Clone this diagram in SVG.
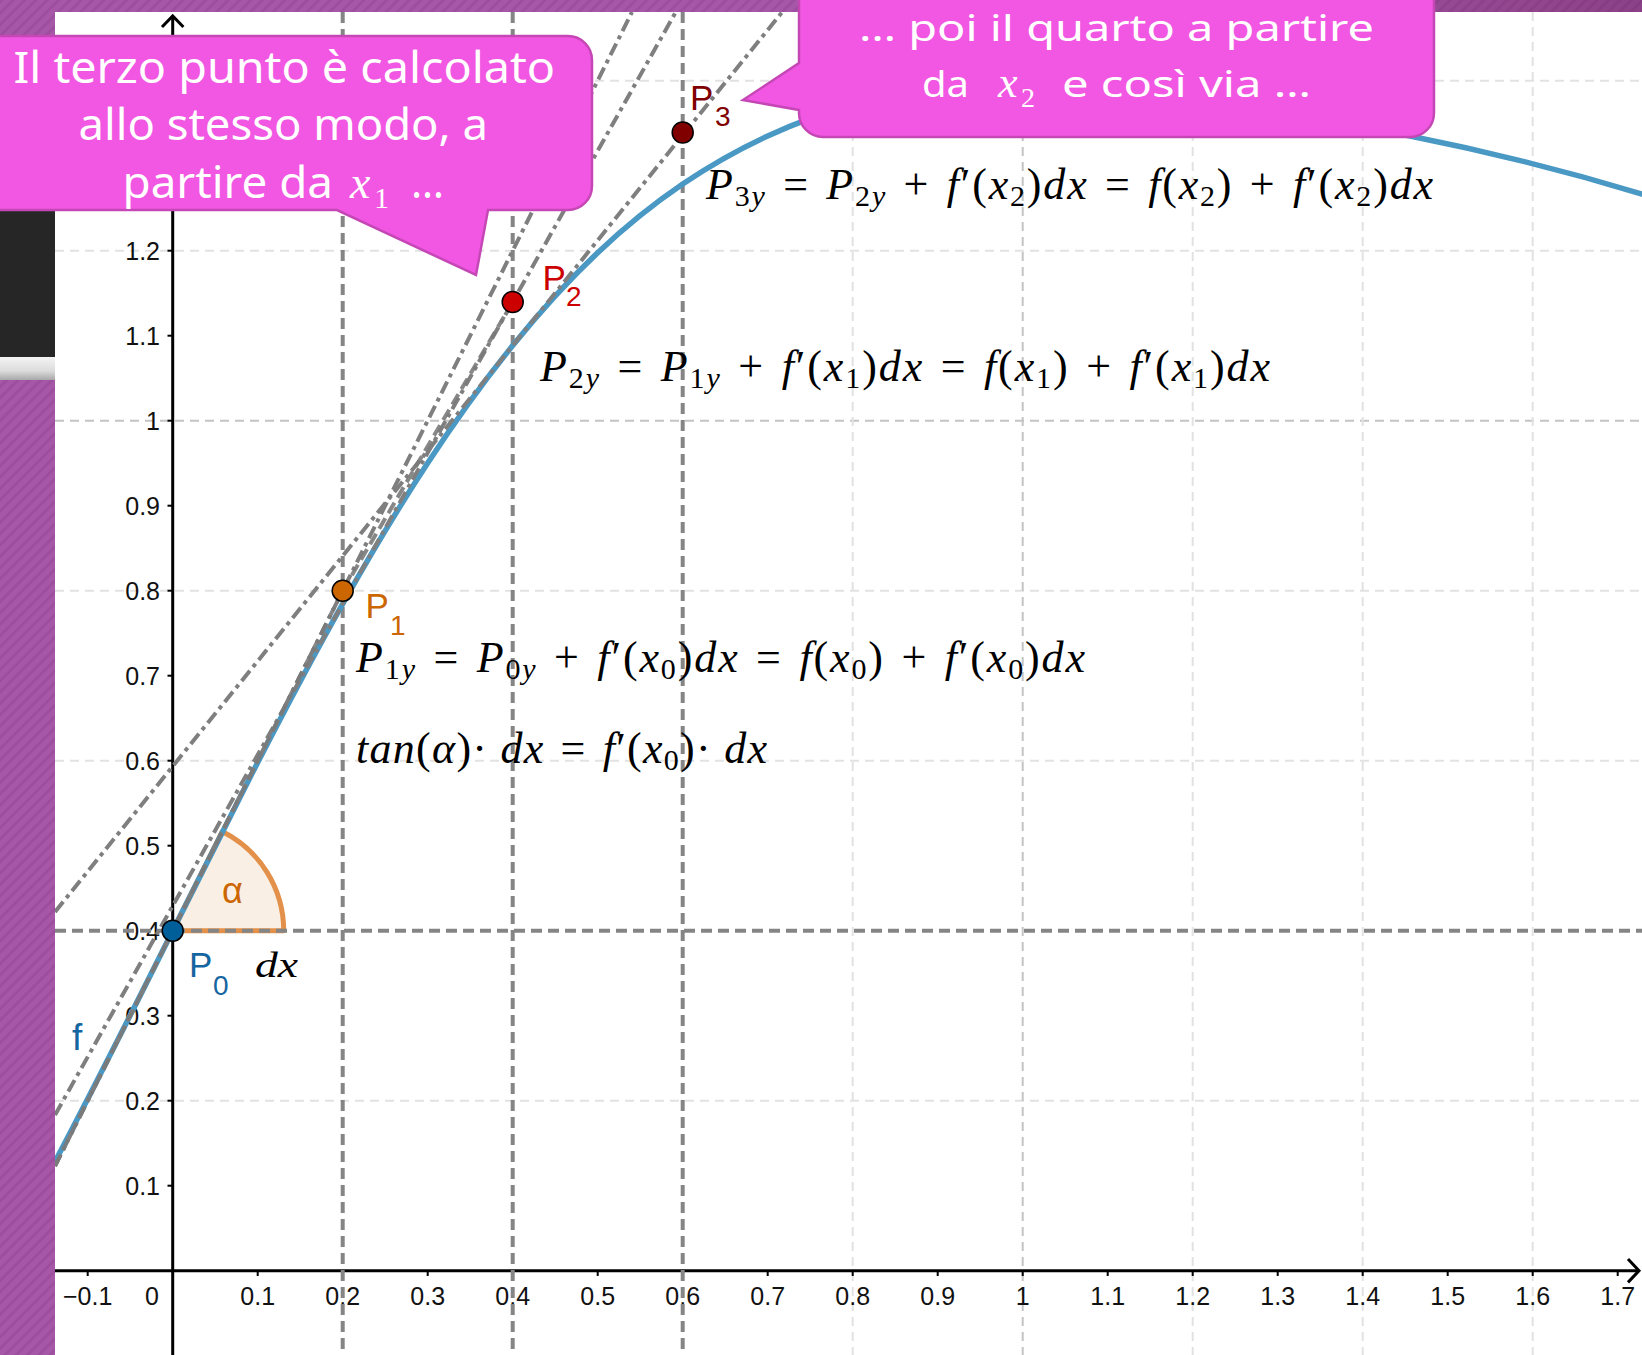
<svg xmlns="http://www.w3.org/2000/svg" width="1642" height="1355" viewBox="0 0 1642 1355">
<defs>
<style>
.grid{stroke:#e2e2e2;stroke-width:2;stroke-dasharray:9 6;fill:none}
.grid1{stroke:#c4c4c4}
.cons{stroke:#858585;stroke-width:4;stroke-dasharray:11 6;fill:none}
.dd{stroke:#7f7f7f;stroke-width:4;stroke-dasharray:13 5 4 5;fill:none}
.dash{stroke:#7a7a7a;stroke-width:4;stroke-dasharray:12 6;fill:none;opacity:0.9}
.axis{stroke:#000;stroke-width:3;fill:none}
.tk{stroke:#000;stroke-width:2}
.lbl{font-family:"Liberation Sans",Arial,sans-serif;font-size:25px;fill:#111}
.xl{text-anchor:middle}
.yl{text-anchor:end}
.m{font-family:"Liberation Serif","Times New Roman",serif;font-size:44px;fill:#000}
.i{font-style:italic}
.s{font-size:30px}
.pl{font-family:"Liberation Sans",Arial,sans-serif;font-size:35px}
.ps{font-family:"Liberation Sans",Arial,sans-serif;font-size:28px}
.pt{stroke:#000;stroke-width:1.5}
.co{fill:#F157E2;stroke:#C547B6;stroke-width:2.5}
.ct{font-family:"Noto Sans","Open Sans",sans-serif;fill:#fff}
.cm{font-family:"Liberation Serif","Times New Roman",serif;font-style:italic;fill:#fff}
.cs{font-family:"Liberation Serif","Times New Roman",serif;font-style:normal;fill:#fff}
</style>
<pattern id="hatch" width="8" height="8" patternUnits="userSpaceOnUse" patternTransform="rotate(45)">
<rect width="8" height="8" fill="#A757A8"/><rect width="3" height="8" fill="#9D4E9F"/>
</pattern>
<linearGradient id="topfade" x1="0" y1="0" x2="1" y2="0">
<stop offset="0" stop-color="#5a1a4a" stop-opacity="0"/><stop offset="1" stop-color="#5a1a4a" stop-opacity="0.35"/>
</linearGradient>
<linearGradient id="bar" x1="0" y1="0" x2="0" y2="1">
<stop offset="0" stop-color="#f4f4f4"/><stop offset="0.6" stop-color="#dcdcdc"/><stop offset="1" stop-color="#a8a8a8"/>
</linearGradient>
<clipPath id="plot"><rect x="55" y="12" width="1587" height="1343"/></clipPath>
</defs>

<rect x="0" y="0" width="1642" height="1355" fill="#fff"/>

<g id="plot-area" clip-path="url(#plot)">
 <g id="grid">
  <line class="grid" x1="55" y1="1100.7" x2="1642" y2="1100.7"/>
  <line class="grid" x1="55" y1="760.7" x2="1642" y2="760.7"/>
  <line class="grid" x1="55" y1="590.7" x2="1642" y2="590.7"/>
  <line class="grid grid1" x1="55" y1="420.7" x2="1642" y2="420.7"/>
  <line class="grid" x1="55" y1="250.7" x2="1642" y2="250.7"/>
  <line class="grid" x1="55" y1="80.7" x2="1642" y2="80.7"/>
  <line class="grid" x1="852.7" y1="12" x2="852.7" y2="1355"/>
  <line class="grid grid1" x1="1022.7" y1="12" x2="1022.7" y2="1355"/>
  <line class="grid" x1="1192.7" y1="12" x2="1192.7" y2="1355"/>
  <line class="grid" x1="1362.7" y1="12" x2="1362.7" y2="1355"/>
  <line class="grid" x1="1532.7" y1="12" x2="1532.7" y2="1355"/>
 </g>

 <g id="axes">
  <line class="axis" x1="55" y1="1270.7" x2="1638" y2="1270.7"/>
  <polyline class="axis" points="1628,1259 1639,1270.7 1628,1282.4"/>
  <line class="axis" x1="172.7" y1="1355" x2="172.7" y2="16"/>
  <polyline class="axis" points="162,27 172.7,16 183.4,27"/>
  <g id="xticks">
   <line class="tk" x1="87.7" y1="1271" x2="87.7" y2="1276"/>
   <line class="tk" x1="257.7" y1="1271" x2="257.7" y2="1276"/>
   <line class="tk" x1="342.7" y1="1271" x2="342.7" y2="1276"/>
   <line class="tk" x1="427.7" y1="1271" x2="427.7" y2="1276"/>
   <line class="tk" x1="512.7" y1="1271" x2="512.7" y2="1276"/>
   <line class="tk" x1="597.7" y1="1271" x2="597.7" y2="1276"/>
   <line class="tk" x1="682.7" y1="1271" x2="682.7" y2="1276"/>
   <line class="tk" x1="767.7" y1="1271" x2="767.7" y2="1276"/>
   <line class="tk" x1="852.7" y1="1271" x2="852.7" y2="1276"/>
   <line class="tk" x1="937.7" y1="1271" x2="937.7" y2="1276"/>
   <line class="tk" x1="1022.7" y1="1271" x2="1022.7" y2="1276"/>
   <line class="tk" x1="1107.7" y1="1271" x2="1107.7" y2="1276"/>
   <line class="tk" x1="1192.7" y1="1271" x2="1192.7" y2="1276"/>
   <line class="tk" x1="1277.7" y1="1271" x2="1277.7" y2="1276"/>
   <line class="tk" x1="1362.7" y1="1271" x2="1362.7" y2="1276"/>
   <line class="tk" x1="1447.7" y1="1271" x2="1447.7" y2="1276"/>
   <line class="tk" x1="1532.7" y1="1271" x2="1532.7" y2="1276"/>
   <line class="tk" x1="1617.7" y1="1271" x2="1617.7" y2="1276"/>
  </g>
  <g id="yticks">
   <line class="tk" x1="167.5" y1="1185.7" x2="172.7" y2="1185.7"/>
   <line class="tk" x1="167.5" y1="1100.7" x2="172.7" y2="1100.7"/>
   <line class="tk" x1="167.5" y1="1015.7" x2="172.7" y2="1015.7"/>
   <line class="tk" x1="167.5" y1="930.7" x2="172.7" y2="930.7"/>
   <line class="tk" x1="167.5" y1="845.7" x2="172.7" y2="845.7"/>
   <line class="tk" x1="167.5" y1="760.7" x2="172.7" y2="760.7"/>
   <line class="tk" x1="167.5" y1="675.7" x2="172.7" y2="675.7"/>
   <line class="tk" x1="167.5" y1="590.7" x2="172.7" y2="590.7"/>
   <line class="tk" x1="167.5" y1="505.7" x2="172.7" y2="505.7"/>
   <line class="tk" x1="167.5" y1="420.7" x2="172.7" y2="420.7"/>
   <line class="tk" x1="167.5" y1="335.7" x2="172.7" y2="335.7"/>
   <line class="tk" x1="167.5" y1="250.7" x2="172.7" y2="250.7"/>
  </g>
  <g id="xlabels" class="lbl xl">
   <text x="87.7" y="1305">−0.1</text>
   <text x="152" y="1305">0</text>
   <text x="257.7" y="1305">0.1</text>
   <text x="342.7" y="1305">0.2</text>
   <text x="427.7" y="1305">0.3</text>
   <text x="512.7" y="1305">0.4</text>
   <text x="597.7" y="1305">0.5</text>
   <text x="682.7" y="1305">0.6</text>
   <text x="767.7" y="1305">0.7</text>
   <text x="852.7" y="1305">0.8</text>
   <text x="937.7" y="1305">0.9</text>
   <text x="1022.7" y="1305">1</text>
   <text x="1107.7" y="1305">1.1</text>
   <text x="1192.7" y="1305">1.2</text>
   <text x="1277.7" y="1305">1.3</text>
   <text x="1362.7" y="1305">1.4</text>
   <text x="1447.7" y="1305">1.5</text>
   <text x="1532.7" y="1305">1.6</text>
   <text x="1617.7" y="1305">1.7</text>
  </g>
  <g id="ylabels" class="lbl yl">
   <text x="160" y="1194.7">0.1</text>
   <text x="160" y="1109.7">0.2</text>
   <text x="160" y="1024.7">0.3</text>
   <text x="160" y="939.7">0.4</text>
   <text x="160" y="854.7">0.5</text>
   <text x="160" y="769.7">0.6</text>
   <text x="160" y="684.7">0.7</text>
   <text x="160" y="599.7">0.8</text>
   <text x="160" y="514.7">0.9</text>
   <text x="160" y="429.7">1</text>
   <text x="160" y="344.7">1.1</text>
   <text x="160" y="259.7">1.2</text>
  </g>
 </g>

 <g id="angle-alpha">
  <path d="M172.7,930.7 L283.7,930.7 A111,111 0 0 0 222.3,831.4 Z" fill="#CC6600" fill-opacity="0.1" stroke="#E3914A" stroke-width="5" stroke-linejoin="round"/>
  <text x="222" y="903" font-family="Liberation Sans, Arial, sans-serif" font-size="36" fill="#CC6600">α</text>
 </g>

 <g id="construction-lines">
  <line class="cons" x1="342.7" y1="12" x2="342.7" y2="1355"/>
  <line class="cons" x1="512.7" y1="12" x2="512.7" y2="1355"/>
  <line class="cons" x1="682.7" y1="12" x2="682.7" y2="1355"/>
  <line class="cons" x1="55" y1="930.7" x2="1642" y2="930.7"/>
 </g>

 <g id="curve-f">
  <path d="M55,1161.6 C94.23,1087.5 133.47,1009.2 172.7,930.7 C201.03,874.03 229.37,817.39 257.7,762.4 C286.03,707.41 314.37,654.05 342.7,603.8 C371.03,553.55 399.37,506.25 427.7,463 C456.03,419.75 484.37,380.56 512.7,345.5 C541.03,310.44 569.37,279.46 597.7,252.7 C626.03,225.94 654.37,203.34 682.7,184.1 C711.03,164.86 739.37,149.03 767.7,136 C781.87,129.48 796.03,123.64 810.2,118.4 C890.2,88.8 1310,116.2 1410,136 Q1526,159 1642,194" fill="none" stroke="#4A98C4" stroke-width="5.5" stroke-linecap="round"/>
  <text x="72" y="1050" font-family="Liberation Sans, Arial, sans-serif" font-size="37" fill="#1565A0">f</text>
 </g>

 <g id="connectors">
  <line class="dd" x1="55" y1="1166.1" x2="632" y2="12"/>
  <line class="dd" x1="55" y1="1115" x2="675.8" y2="12"/>
  <line class="dd" x1="55" y1="911.9" x2="782.2" y2="12"/>
  <line class="dash" x1="55" y1="1166.1" x2="342.7" y2="590.7"/>
  <line class="dash" x1="342.7" y1="590.7" x2="512.7" y2="302"/>
 </g>

 <g id="P0">
  <circle class="pt" cx="172.7" cy="930.7" r="10.5" fill="#005F99"/>
  <text fill="#1565A0"><tspan class="pl" x="189" y="977">P</tspan><tspan class="ps" x="213" y="995">0</tspan></text>
  <text x="255" y="977" font-family="Liberation Serif, Times New Roman, serif" font-style="italic" font-size="36" textLength="43" lengthAdjust="spacingAndGlyphs">dx</text>
 </g>
 <g id="P1">
  <circle class="pt" cx="342.7" cy="590.7" r="10.5" fill="#CC6600"/>
  <text fill="#CC6600"><tspan class="pl" x="365.5" y="618">P</tspan><tspan class="ps" x="390" y="635">1</tspan></text>
 </g>
 <g id="P2">
  <circle class="pt" cx="512.7" cy="302" r="10.5" fill="#CC0000"/>
  <text fill="#CC0000"><tspan class="pl" x="542.5" y="290">P</tspan><tspan class="ps" x="566" y="306">2</tspan></text>
 </g>
 <g id="P3">
  <circle class="pt" cx="682.7" cy="132.5" r="10.5" fill="#800000"/>
  <text fill="#800000"><tspan class="pl" x="690" y="110">P</tspan><tspan class="ps" x="715" y="126">3</tspan></text>
 </g>

 <g id="formulas">
  <text id="formula-p1" class="m" x="356" y="672" textLength="729" lengthAdjust="spacing"><tspan class="i">P</tspan><tspan class="s" dy="7">1</tspan><tspan class="s i">y</tspan><tspan dy="-7">&#8196;=&#8196;</tspan><tspan class="i">P</tspan><tspan class="s" dy="7">0</tspan><tspan class="s i">y</tspan><tspan dy="-7">&#8196;+&#8196;</tspan><tspan class="i">f</tspan>′(<tspan class="i">x</tspan><tspan class="s" dy="7">0</tspan><tspan dy="-7">)</tspan><tspan class="i">dx</tspan>&#8196;=&#8196;<tspan class="i">f</tspan>(<tspan class="i">x</tspan><tspan class="s" dy="7">0</tspan><tspan dy="-7">)&#8196;+&#8196;</tspan><tspan class="i">f</tspan>′(<tspan class="i">x</tspan><tspan class="s" dy="7">0</tspan><tspan dy="-7">)</tspan><tspan class="i">dx</tspan></text>
  <text id="formula-tan" class="m" x="356" y="763" textLength="411" lengthAdjust="spacing"><tspan class="i">tan</tspan>(<tspan class="i">α</tspan>)·<tspan class="i">&#8197;dx</tspan>&#8196;=&#8196;<tspan class="i">f</tspan>′(<tspan class="i">x</tspan><tspan class="s" dy="7">0</tspan><tspan dy="-7">)·</tspan><tspan class="i">&#8197;dx</tspan></text>
  <text id="formula-p2" class="m" x="540" y="381" textLength="730" lengthAdjust="spacing"><tspan class="i">P</tspan><tspan class="s" dy="7">2</tspan><tspan class="s i">y</tspan><tspan dy="-7">&#8196;=&#8196;</tspan><tspan class="i">P</tspan><tspan class="s" dy="7">1</tspan><tspan class="s i">y</tspan><tspan dy="-7">&#8196;+&#8196;</tspan><tspan class="i">f</tspan>′(<tspan class="i">x</tspan><tspan class="s" dy="7">1</tspan><tspan dy="-7">)</tspan><tspan class="i">dx</tspan>&#8196;=&#8196;<tspan class="i">f</tspan>(<tspan class="i">x</tspan><tspan class="s" dy="7">1</tspan><tspan dy="-7">)&#8196;+&#8196;</tspan><tspan class="i">f</tspan>′(<tspan class="i">x</tspan><tspan class="s" dy="7">1</tspan><tspan dy="-7">)</tspan><tspan class="i">dx</tspan></text>
  <text id="formula-p3" class="m" x="706" y="199" textLength="727" lengthAdjust="spacing"><tspan class="i">P</tspan><tspan class="s" dy="7">3</tspan><tspan class="s i">y</tspan><tspan dy="-7">&#8196;=&#8196;</tspan><tspan class="i">P</tspan><tspan class="s" dy="7">2</tspan><tspan class="s i">y</tspan><tspan dy="-7">&#8196;+&#8196;</tspan><tspan class="i">f</tspan>′(<tspan class="i">x</tspan><tspan class="s" dy="7">2</tspan><tspan dy="-7">)</tspan><tspan class="i">dx</tspan>&#8196;=&#8196;<tspan class="i">f</tspan>(<tspan class="i">x</tspan><tspan class="s" dy="7">2</tspan><tspan dy="-7">)&#8196;+&#8196;</tspan><tspan class="i">f</tspan>′(<tspan class="i">x</tspan><tspan class="s" dy="7">2</tspan><tspan dy="-7">)</tspan><tspan class="i">dx</tspan></text>
 </g>
</g>

<g id="frame">
 <rect x="0" y="0" width="1642" height="12" fill="url(#hatch)"/>
 <rect x="1100" y="0" width="542" height="12" fill="url(#topfade)"/>
 <rect x="0" y="0" width="55" height="1355" fill="url(#hatch)"/>
 <rect x="0" y="150" width="55" height="207" fill="#262626"/>
 <rect x="0" y="357" width="55" height="23" fill="url(#bar)"/>
</g>

<g id="callout1">
 <path class="co" d="M-20,36 H568 A24,24 0 0 1 592,60 V186 A24,24 0 0 1 568,210 H488 L476,275 L337,210 H-20 Z"/>
 <text class="ct" x="13.4" y="83" font-size="44" textLength="541.6" lengthAdjust="spacingAndGlyphs">Il terzo punto è calcolato</text>
 <text class="ct" x="78.5" y="140" font-size="44" textLength="409.5" lengthAdjust="spacingAndGlyphs">allo stesso modo, a</text>
 <text class="ct" x="122.5" y="198" font-size="44" textLength="210.5" lengthAdjust="spacingAndGlyphs">partire da</text>
 <text class="cm" x="350" y="198" font-size="46">x</text>
 <text class="cs" x="374" y="208" font-size="30">1</text>
 <text class="ct" x="411" y="198" font-size="44" textLength="33" lengthAdjust="spacingAndGlyphs">…</text>
</g>

<g id="callout2">
 <path class="co" d="M799,-30 H1434 V113 A24,24 0 0 1 1410,137 H823 A24,24 0 0 1 799,113 V110 L743,100 L799,63 Z"/>
 <text class="ct" x="859" y="41" font-size="37" textLength="515" lengthAdjust="spacingAndGlyphs">… poi il quarto a partire</text>
 <text class="ct" x="922" y="97" font-size="37" textLength="47" lengthAdjust="spacingAndGlyphs">da</text>
 <text class="cm" x="998" y="97" font-size="44">x</text>
 <text class="cs" x="1021" y="107" font-size="28">2</text>
 <text class="ct" x="1062" y="97" font-size="37" textLength="249" lengthAdjust="spacingAndGlyphs">e così via …</text>
</g>
</svg>
